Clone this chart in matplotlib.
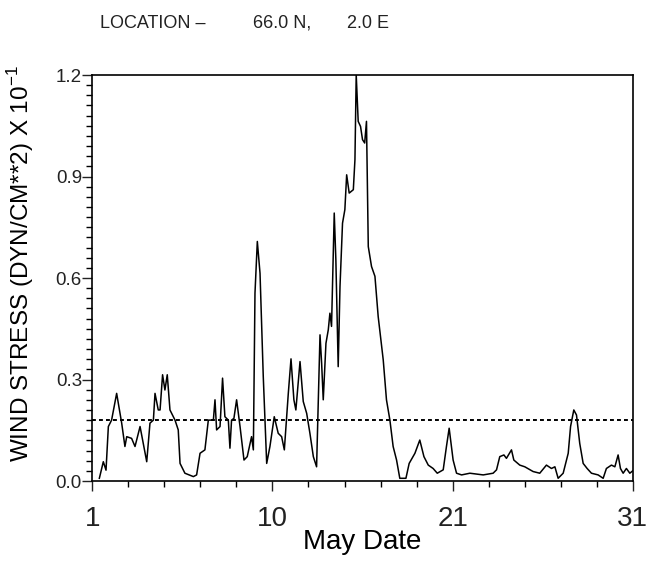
import numpy as np
import matplotlib
matplotlib.use("Agg")
import matplotlib.pyplot as plt

# wind stress (day of May, stress x 10^-1 dyn/cm^2)
day = [1.39, 1.61, 1.76, 1.89, 2.07, 2.35, 2.63, 2.81, 2.91, 3.18, 3.37, 3.65,
       4.02, 4.20, 4.39, 4.48, 4.66, 4.76, 4.90, 5.03, 5.16, 5.31, 5.59, 5.77,
       5.87, 6.14, 6.61, 6.79, 6.98, 7.25, 7.44, 7.72, 7.81, 7.90, 8.09, 8.23,
       8.36, 8.55, 8.64, 8.73, 8.86, 9.01, 9.20, 9.42, 9.60, 9.84, 9.94, 10.03,
       10.16, 10.31, 10.49, 10.68, 10.86, 11.10, 11.32, 11.51, 11.66, 11.88,
       12.03, 12.19, 12.30, 12.53, 12.71, 12.90, 13.08, 13.27, 13.45, 13.64,
       13.73, 13.82, 13.97, 14.10, 14.19, 14.28, 14.43, 14.52, 14.65, 14.75,
       14.89, 15.02, 15.12, 15.26, 15.49, 15.58, 15.65, 15.76, 15.89, 16.00,
       16.12, 16.22, 16.32, 16.50, 16.69, 16.87, 17.15, 17.33, 17.52, 17.70,
       17.89, 18.07, 18.41, 18.59, 18.91, 19.18, 19.41, 19.65, 19.92, 20.15,
       20.48, 20.66, 20.81, 21.03, 21.22, 21.50, 21.96, 22.70, 23.25, 23.44,
       23.62, 23.85, 23.99, 24.27, 24.40, 24.73, 25.01, 25.47, 25.84, 26.21,
       26.49, 26.68, 26.86, 27.14, 27.42, 27.55, 27.73, 27.88, 28.06, 28.25,
       28.47, 28.71, 29.08, 29.36, 29.54, 29.82, 30.01, 30.19, 30.32, 30.47,
       30.65, 30.84, 31.0]
stress = [0.008, 0.057, 0.032, 0.161, 0.180, 0.259, 0.171, 0.102, 0.131, 0.126,
          0.102, 0.161, 0.057, 0.171, 0.180, 0.259, 0.210, 0.210, 0.314, 0.269,
          0.314, 0.210, 0.180, 0.151, 0.052, 0.023, 0.013, 0.018, 0.082, 0.092,
          0.180, 0.180, 0.240, 0.151, 0.161, 0.304, 0.190, 0.180, 0.097, 0.180,
          0.185, 0.240, 0.161, 0.062, 0.072, 0.131, 0.092, 0.555, 0.708, 0.614,
          0.309, 0.052, 0.102, 0.190, 0.141, 0.131, 0.092, 0.259, 0.361, 0.240,
          0.210, 0.353, 0.235, 0.200, 0.141, 0.072, 0.042, 0.432, 0.348, 0.240,
          0.407, 0.447, 0.496, 0.457, 0.792, 0.654, 0.338, 0.575, 0.762, 0.802,
          0.905, 0.851, 0.861, 0.950, 1.201, 1.063, 1.048, 1.009, 0.999, 1.063,
          0.693, 0.634, 0.605, 0.486, 0.358, 0.240, 0.180, 0.102, 0.062, 0.008,
          0.008, 0.052, 0.082, 0.121, 0.072, 0.047, 0.037, 0.023, 0.033, 0.102,
          0.156, 0.062, 0.023, 0.018, 0.023, 0.018, 0.023, 0.033, 0.072, 0.077,
          0.067, 0.092, 0.062, 0.047, 0.042, 0.028, 0.023, 0.047, 0.037, 0.042,
          0.008, 0.023, 0.082, 0.161, 0.210, 0.195, 0.111, 0.052, 0.037, 0.023,
          0.018, 0.008, 0.037, 0.047, 0.042, 0.077, 0.037, 0.023, 0.037, 0.023,
          0.030]
threshold = 0.18

x_ticks = [1, 11, 21, 31]
x_tick_labels = ['1', '10', '21', '31']
y_ticks = [0.0, 0.3, 0.6, 0.9, 1.2]
title_parts = ['LOCATION –', '66.0 N,', '2.0 E']

plt.rcParams['font.family'] = ['Liberation Sans', 'DejaVu Sans']
plt.rcParams['mathtext.fontset'] = 'custom'
plt.rcParams['mathtext.rm'] = 'Liberation Sans'

fig = plt.figure(figsize=(6.47, 5.61), dpi=100)
ax = fig.add_axes([0.1427, 0.1426, 0.8352, 0.7237])

ax.plot(day, stress, color='black', lw=1.1)
ax.axhline(threshold, color='black', lw=1.4, ls=(0, (2, 1.6)))

ax.set_xlim(1, 31)
ax.set_ylim(0, 1.2)
ax.set_xticks(x_ticks)
ax.set_xticklabels(x_tick_labels)
ax.set_xticks(np.arange(1, 32, 2), minor=True)
ax.set_yticks(y_ticks)
ax.set_yticklabels([f'{v:.1f}' for v in y_ticks])
ax.set_yticks(np.arange(0, 1.2001, 0.03), minor=True)

ax.tick_params(axis='x', which='major', direction='out', length=7, width=1,
               labelsize=20, pad=11, colors='#222222')
ax.tick_params(axis='x', which='minor', direction='out', length=4, width=1)
ax.tick_params(axis='y', which='major', direction='out', length=7, width=1,
               labelsize=13.5, pad=0.5, colors='#222222')
ax.tick_params(axis='y', which='minor', direction='out', length=4, width=1)
for s in ax.spines.values():
    s.set_linewidth(1.2)

ax.set_xlabel('May Date', fontsize=20, labelpad=-2)
ax.set_ylabel(r'WIND STRESS (DYN/CM**2) X 10$^{-1}$',
              family=['Liberation Sans Narrow', 'Liberation Sans'], fontsize=17.5)
ax.yaxis.set_label_coords(-0.105, 0.535)

# title pieces spread out the way the old plotter spaced them
for xpos, part in zip([100, 253, 347], title_parts):
    fig.text(xpos / 647, 1 - 28 / 561, part, fontsize=13, ha='left',
             va='baseline', color='#222222')

fig.savefig('out.png', dpi=100)
